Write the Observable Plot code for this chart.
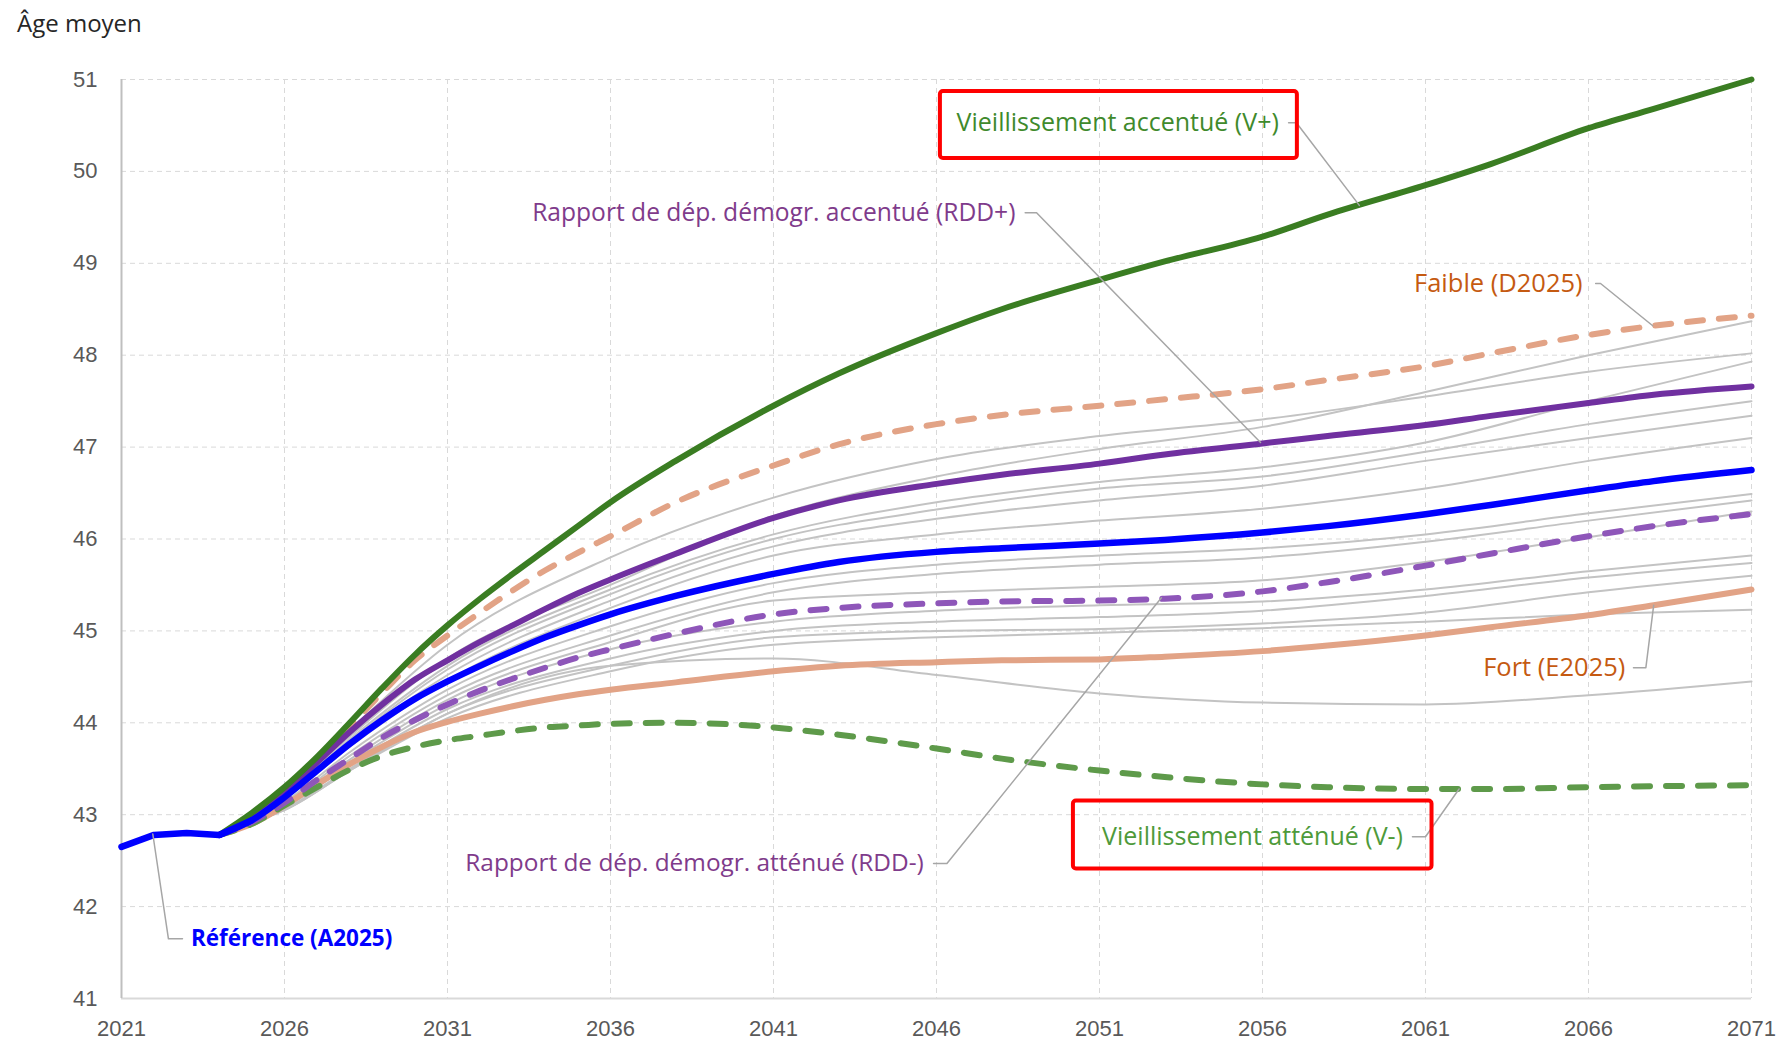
<!DOCTYPE html>
<html><head><meta charset="utf-8">
<script src="https://cdn.jsdelivr.net/npm/d3@7"></script>
<script src="https://cdn.jsdelivr.net/npm/@observablehq/plot@0.6"></script>
<style>
body{margin:0;background:#fff;}
#title{height:40px;padding-left:17px;font-family:"Open Sans",sans-serif;font-size:24px;line-height:46px;color:#262626;}
#chart svg{display:block;}
</style></head><body>
<div id="title">Âge moyen</div>
<div id="chart"></div>
<script>
// ---- Main series (years and values) ----
const years = [2021,2022,2023,2024,2025,2026,2027,2028,2029,2030,2031,2032,2033,2034,2035,2036,2038,2041,2043,2046,2048,2051,2053,2056,2058,2061,2063,2066,2068,2071];
const reference = [42.65,42.78,42.80,42.78,42.94,43.19,43.48,43.77,44.03,44.26,44.45,44.62,44.78,44.93,45.06,45.18,45.38,45.62,45.75,45.86,45.90,45.95,45.99,46.07,46.14,46.27,46.37,46.53,46.63,46.75];
const vPlus     = [null,null,null,42.78,43.02,43.30,43.63,44.00,44.38,44.74,45.06,45.35,45.62,45.88,46.14,46.40,46.85,47.45,47.80,48.24,48.50,48.82,49.02,49.29,49.53,49.85,50.08,50.47,50.68,51.00];
const faible    = [null,null,null,42.78,42.98,43.27,43.60,43.96,44.33,44.68,44.95,45.20,45.44,45.66,45.85,46.03,46.40,46.80,47.03,47.25,47.35,47.45,47.52,47.63,47.73,47.88,48.02,48.22,48.32,48.43];
const rddPlus   = [null,null,null,42.78,42.97,43.25,43.57,43.90,44.20,44.47,44.68,44.88,45.06,45.24,45.41,45.56,45.84,46.23,46.42,46.60,46.70,46.82,46.92,47.04,47.12,47.24,47.34,47.48,47.57,47.66];
const rddMinus  = [null,null,null,42.78,42.92,43.13,43.38,43.61,43.84,44.03,44.20,44.35,44.48,44.60,44.71,44.80,44.97,45.18,45.25,45.30,45.32,45.33,45.35,45.43,45.53,45.71,45.84,46.03,46.14,46.27];
const fort      = [null,null,null,42.78,42.90,43.10,43.33,43.55,43.74,43.90,44.01,44.10,44.18,44.25,44.31,44.36,44.44,44.56,44.62,44.66,44.68,44.69,44.72,44.78,44.84,44.95,45.04,45.17,45.28,45.45];
const vMinus    = [null,null,null,42.78,42.90,43.10,43.30,43.49,43.64,43.74,43.81,43.86,43.91,43.95,43.97,43.99,44.00,43.95,43.87,43.72,43.61,43.48,43.41,43.33,43.30,43.28,43.28,43.30,43.31,43.32];

// ---- Other variants (grey) ----
const greyYears = [2024,2025,2026,2028,2031,2036,2041,2046,2051,2056,2061,2066,2071];
const greySeries = [
  [42.78,42.97,43.25,43.92,44.85,45.80,46.45,46.87,47.12,47.30,47.55,47.82,48.02],
  [42.78,42.96,43.22,43.85,44.70,45.50,46.25,46.68,46.98,47.22,47.60,48.00,48.37],
  [42.78,42.96,43.20,43.82,44.62,45.45,46.05,46.40,46.62,46.78,47.05,47.50,47.93],
  [42.78,42.95,43.20,43.80,44.58,45.40,46.00,46.32,46.55,46.68,46.95,47.25,47.50],
  [42.78,42.95,43.18,43.78,44.52,45.33,45.92,46.22,46.42,46.58,46.85,47.10,47.34],
  [42.78,42.95,43.17,43.74,44.46,45.25,45.82,46.05,46.20,46.33,46.55,46.85,47.10],
  [42.78,42.94,43.14,43.68,44.36,45.05,45.52,45.72,45.82,45.90,46.05,46.28,46.49],
  [42.78,42.94,43.12,43.64,44.30,44.95,45.42,45.62,45.72,45.80,45.97,46.20,46.42],
  [42.78,42.93,43.10,43.60,44.25,44.88,45.33,45.42,45.48,45.55,45.75,46.02,46.30],
  [42.78,42.93,43.10,43.57,44.20,44.80,45.10,45.22,45.28,45.32,45.45,45.65,45.82],
  [42.78,42.93,43.08,43.54,44.15,44.70,45.00,45.10,45.15,45.22,45.38,45.58,45.74],
  [42.78,42.92,43.06,43.50,44.10,44.62,44.93,45.00,45.02,45.08,45.20,45.42,45.60],
  [42.78,42.92,43.05,43.48,44.05,44.56,44.85,44.93,44.98,45.03,45.10,45.18,45.23],
  [42.78,42.92,43.05,43.48,44.10,44.62,44.70,44.52,44.32,44.22,44.20,44.30,44.45]
];

// ---- Tick labels ----
const xTicks = [2021,2026,2031,2036,2041,2046,2051,2056,2061,2066,2071];
const yTicks = [41,42,43,44,45,46,47,48,49,50,51];

// ---- Annotation texts ----
const labelTexts = {
  vPlus: "Vieillissement accentué (V+)",
  rddPlus: "Rapport de dép. démogr. accentué (RDD+)",
  faible: "Faible (D2025)",
  fort: "Fort (E2025)",
  vMinus: "Vieillissement atténué (V-)",
  rddMinus: "Rapport de dép. démogr. atténué (RDD-)",
  reference: "Référence (A2025)"
};

// ---- build tables ----
const toRows = (xs, vs) => xs.map((x, i) => ({year: x, value: vs[i]})).filter(d => d.value != null);
const greyRows = greySeries.flatMap((s, k) => greyYears.map((x, i) => ({year: x, value: s[i], series: "g" + k})));
const refRows = toRows(years, reference);

// annotation layout (data coordinates)
const labelPos = [
  {key:"vPlus",    x:2056.5,  y:50.53, anchor:"end",   color:"#3f8a2c", weight:"normal", size:25, leader:[[2056.80,50.53],[2057.04,50.53],[2058.97,49.63]]},
  {key:"rddPlus",  x:2048.42, y:49.55, anchor:"end",   color:"#7f3b8b", weight:"normal", size:24.6, leader:[[2048.72,49.55],[2049.07,49.55],[2055.94,47.05]]},
  {key:"faible",   x:2065.82, y:48.78, anchor:"end",   color:"#c55a11", weight:"normal", size:25.5, leader:[[2066.22,48.78],[2066.37,48.78],[2067.97,48.32]]},
  {key:"fort",     x:2067.13, y:44.60, anchor:"end",   color:"#c55a11", weight:"normal", size:25.5, leader:[[2067.38,44.60],[2067.76,44.60],[2068.0,45.28]]},
  {key:"vMinus",   x:2060.31, y:42.76, anchor:"end",   color:"#4e9a3a", weight:"normal", size:25, leader:[[2060.6,42.76],[2061.0,42.76],[2062.03,43.28]]},
  {key:"rddMinus", x:2045.61, y:42.47, anchor:"end",   color:"#7f3b8b", weight:"normal", size:24.4, leader:[[2045.91,42.47],[2046.32,42.47],[2052.9,45.36]]},
  {key:"reference",x:2023.13, y:41.65, anchor:"start", color:"#0000ff", weight:"bold",   size:22.5, leader:[[2022.87,41.65],[2022.44,41.65],[2021.96,42.79]]}
];
const boxes = [
  {x1:2046.12, x2:2057.07, y1:50.14, y2:50.87},
  {x1:2050.2,  x2:2061.2,  y1:42.41, y2:43.15}
];

const labelFont = "'Open Sans', sans-serif";
const curve = "monotone-x";

const chart = Plot.plot({
  width: 1788,
  height: 1001,
  marginTop: 39,
  marginLeft: 121,
  marginRight: 37,
  marginBottom: 43,
  x: {domain: [2021, 2071], label: null},
  y: {domain: [41, 51], label: null},
  style: {fontFamily: "'Liberation Sans', Arial, sans-serif", fontSize: "22px", color: "#595959", background: "#fff"},
  marks: [
    Plot.gridX(xTicks, {stroke: "#d9d9d9", strokeOpacity: 1, strokeDasharray: "5,4"}),
    Plot.gridY(yTicks, {stroke: "#d9d9d9", strokeOpacity: 1, strokeDasharray: "5,4"}),
    Plot.ruleY([41], {stroke: "#d9d9d9", strokeWidth: 2}),
    Plot.ruleX([2021], {stroke: "#bfbfbf", strokeWidth: 2}),
    Plot.axisX(xTicks, {tickSize: 0, tickPadding: 22, tickFormat: d => String(d), fill: "#595959", fontSize: 22, label: null}),
    Plot.axisY(yTicks, {tickSize: 0, tickPadding: 24, tickFormat: d => String(d), fill: "#595959", fontSize: 22, label: null}),
    Plot.line(greyRows, {x: "year", y: "value", z: "series", stroke: "#c3c3c3", strokeWidth: 2, curve}),
    Plot.line(toRows(years, fort), {x: "year", y: "value", stroke: "#e2a386", strokeWidth: 6, curve}),
    Plot.line(toRows(years, faible), {x: "year", y: "value", stroke: "#e2a386", strokeWidth: 6, strokeDasharray: "16,16", strokeLinecap: "round", curve}),
    Plot.line(toRows(years, vMinus), {x: "year", y: "value", stroke: "#5e9a4a", strokeWidth: 6, strokeDasharray: "16,16", strokeLinecap: "round", curve}),
    Plot.line(toRows(years, rddMinus), {x: "year", y: "value", stroke: "#8e56b9", strokeWidth: 6, strokeDasharray: "16,16", strokeLinecap: "round", curve}),
    Plot.line(toRows(years, rddPlus), {x: "year", y: "value", stroke: "#7030a0", strokeWidth: 6, curve}),
    Plot.line(toRows(years, vPlus), {x: "year", y: "value", stroke: "#3a7d22", strokeWidth: 6, curve}),
    Plot.line(refRows.filter(d => d.year <= 2025), {x: "year", y: "value", stroke: "#0000ff", strokeWidth: 6.5, curve: "linear", strokeLinejoin: "round"}),
    Plot.line(refRows.filter(d => d.year >= 2024), {x: "year", y: "value", stroke: "#0000ff", strokeWidth: 6.5, curve, strokeLinejoin: "round"}),
    ...labelPos.map(l => Plot.line(l.leader, {x: d => d[0], y: d => d[1], stroke: "#a6a6a6", strokeWidth: 1.5})),
    ...labelPos.map(l => Plot.text([l], {x: "x", y: "y", text: d => labelTexts[d.key], textAnchor: l.anchor, fill: l.color, fontWeight: l.weight, fontSize: l.size, fontFamily: labelFont})),
    Plot.rect(boxes, {x1: "x1", x2: "x2", y1: "y1", y2: "y2", fill: "none", stroke: "#ff0000", strokeWidth: 4, rx: 3})
  ]
});
document.getElementById("chart").appendChild(chart);
</script>
</body></html>
